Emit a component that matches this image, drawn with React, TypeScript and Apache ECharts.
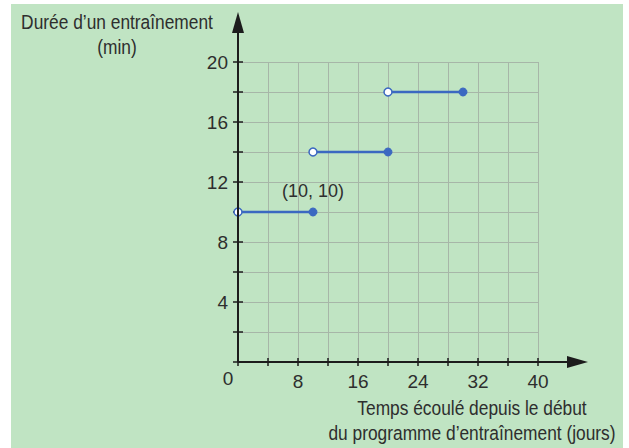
import React, { useEffect, useRef } from "react";
import * as echarts from "echarts";

const segmentStartDays = [0, 10, 20];
const segmentEndDays = [10, 20, 30];
const durations = [10, 14, 18];
const labelledPoint = [10, 10];
const xTitleLines = ["Temps écoulé depuis le début", "du programme d’entraînement (jours)"];
const yTitleLines = ["Durée d’un entraînement", "(min)"];

const FONT = "'Liberation Sans', Arial, sans-serif";
const TEXT = "#2e2e2e";
const AXIS = "#1c1c1c";
const BLUE = "#3b68c1";
const GRIDC = "#a7b6a8";

export default function App() {
  const ref = useRef<HTMLDivElement>(null);
  useEffect(() => {
    if (!ref.current) return;
    const chart = echarts.init(ref.current, undefined, { renderer: "svg" });
    const series = segmentStartDays.map((s, i) => ({
      type: "line",
      xAxisIndex: 0,
      yAxisIndex: 0,
      z: 5,
      lineStyle: { color: BLUE, width: 2.5 },
      symbol: "circle",
      symbolSize: 8,
      data: [
        {
          value: [s, durations[i]],
          itemStyle: { color: "#ffffff", borderColor: BLUE, borderWidth: 1.5 },
        },
        {
          value: [segmentEndDays[i], durations[i]],
          itemStyle: { color: BLUE, borderColor: BLUE, borderWidth: 1 },
          label:
            segmentEndDays[i] === labelledPoint[0] && durations[i] === labelledPoint[1]
              ? {
                  show: true,
                  position: "top",
                  distance: 8,
                  formatter: `(${labelledPoint[0]}, ${labelledPoint[1]})`,
                  color: TEXT,
                  fontFamily: FONT,
                  fontSize: 18,
                }
              : { show: false },
        },
      ],
    }));
    const tickLabel = { color: TEXT, fontFamily: FONT, fontSize: 19 };
    chart.setOption({
      animation: false,
      backgroundColor: "transparent",
      grid: { left: 238, top: 62, width: 300, height: 300 },
      xAxis: [
        {
          type: "value",
          min: 0,
          max: 40,
          interval: 4,
          axisLine: { show: false },
          axisTick: { show: true, length: 4, lineStyle: { color: AXIS, width: 1.5 } },
          splitLine: { show: true, lineStyle: { color: GRIDC, width: 1 } },
          axisLabel: {
            ...tickLabel,
            margin: 10,
            showMinLabel: true,
            showMaxLabel: true,
            formatter: (v: number) => (v !== 0 && v % 8 === 0 ? String(v) : ""),
          },
        },
        {
          type: "value",
          min: 0,
          max: 40,
          interval: 4,
          position: "bottom",
          axisLine: { show: false },
          axisTick: { show: true, inside: true, length: 4, lineStyle: { color: AXIS, width: 1.5 } },
          splitLine: { show: false },
          axisLabel: { show: false },
        },
      ],
      yAxis: [
        {
          type: "value",
          min: 0,
          max: 20,
          interval: 2,
          axisLine: { show: false },
          axisTick: { show: true, length: 5, lineStyle: { color: AXIS, width: 1.5 } },
          splitLine: { show: true, lineStyle: { color: GRIDC, width: 1 } },
          axisLabel: {
            ...tickLabel,
            margin: 10,
            showMinLabel: true,
            showMaxLabel: true,
            formatter: (v: number) => (v !== 0 && v % 4 === 0 ? String(v) : ""),
          },
        },
        {
          type: "value",
          min: 0,
          max: 20,
          interval: 2,
          position: "left",
          axisLine: { show: false },
          axisTick: { show: true, inside: true, length: 5, lineStyle: { color: AXIS, width: 1.5 } },
          splitLine: { show: false },
          axisLabel: { show: false },
        },
      ],
      series,
    });

    const o = chart.convertToPixel({ gridIndex: 0 }, [0, 0]) as number[];
    const xEnd = 588;
    const yEnd = 12;
    const titleStyle = { fill: TEXT, font: `19.5px ${FONT}`, align: "center", verticalAlign: "middle" };
    chart.setOption({
      graphic: [
        { type: "line", z: 10, shape: { x1: o[0], y1: o[1], x2: xEnd - 14, y2: o[1] }, style: { stroke: AXIS, lineWidth: 2 } },
        { type: "line", z: 10, shape: { x1: o[0], y1: o[1], x2: o[0], y2: yEnd + 14 }, style: { stroke: AXIS, lineWidth: 2 } },
        {
          type: "polygon",
          z: 10,
          shape: { points: [[xEnd, o[1]], [xEnd - 21, o[1] - 6], [xEnd - 21, o[1] + 6]] },
          style: { fill: AXIS },
        },
        {
          type: "polygon",
          z: 10,
          shape: { points: [[o[0], yEnd], [o[0] - 6, yEnd + 21], [o[0] + 6, yEnd + 21]] },
          style: { fill: AXIS },
        },
        {
          type: "text",
          x: o[0] - 10,
          y: o[1] + 16,
          style: { text: "0", fill: TEXT, font: `19px ${FONT}`, align: "center", verticalAlign: "middle" },
        },
        ...yTitleLines.map((t, i) => ({
          type: "text",
          x: 117,
          y: 22 + i * 25,
          scaleX: 0.89,
          style: { text: t, ...titleStyle },
        })),
        ...xTitleLines.map((t, i) => ({
          type: "text",
          x: 472,
          y: 408 + i * 25,
          scaleX: 0.89,
          style: { text: t, ...titleStyle },
        })),
      ],
    });
    return () => chart.dispose();
  }, []);

  return (
    <div style={{ position: "fixed", left: 0, top: 0, width: 629, height: 448, background: "#ffffff" }}>
      <div style={{ position: "absolute", left: 11, top: 4, width: 612, height: 444, background: "#c0e4c3" }} />
      <div ref={ref} style={{ position: "absolute", left: 0, top: 0, width: 629, height: 448 }} />
    </div>
  );
}
